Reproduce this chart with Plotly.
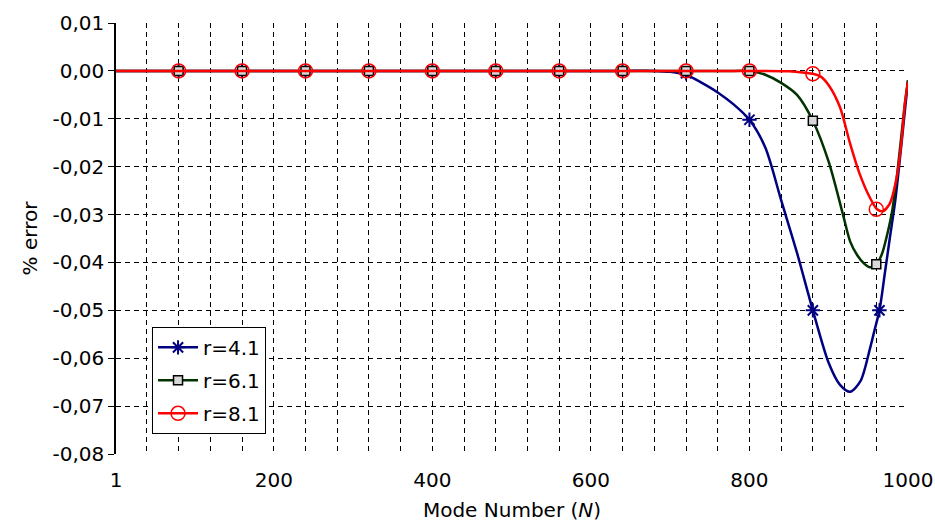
import plotly.graph_objects as go

# ---- data ----
blue_N = [1, 640, 680, 700, 720, 740, 760, 780, 800, 820, 840, 860, 880, 900, 914, 927,
          940, 952, 958, 964, 971, 977, 984, 990, 995, 1000]
blue_v = [0, 0, 0, -0.0002, -0.0008, -0.0025, -0.0045, -0.007, -0.0102, -0.016, -0.027,
          -0.038, -0.050, -0.061, -0.0655, -0.067, -0.0648, -0.058, -0.054, -0.050, -0.042,
          -0.035, -0.027, -0.018, -0.010, -0.002]

green_N = [1, 780, 800, 820, 840, 860, 880, 900, 918, 927, 936, 945, 952, 960, 967, 974,
           980, 986, 992, 996, 1000]
green_v = [0, 0, 0, -0.0008, -0.0025, -0.005, -0.0104, -0.019, -0.030, -0.0356, -0.0385,
           -0.0403, -0.041, -0.0404, -0.0383, -0.034, -0.0293, -0.022, -0.013, -0.007, -0.002]

red_N = [1, 820, 850, 870, 880, 890, 900, 914, 927, 939, 952, 961, 968, 977, 986, 992, 996, 1000]
red_v = [0, 0, -0.0001, -0.0004, -0.0006, -0.0012, -0.003, -0.0075, -0.0152, -0.0215, -0.0265,
         -0.0289, -0.0293, -0.0277, -0.022, -0.0143, -0.0069, -0.0023]

blue_mark_N = [80, 160, 240, 320, 400, 480, 560, 640, 720, 800, 880, 964]
blue_mark_v = [0, 0, 0, 0, 0, 0, 0, 0, -0.0005, -0.0102, -0.050, -0.050]
green_mark_N = [80, 160, 240, 320, 400, 480, 560, 640, 720, 800, 880, 960]
green_mark_v = [0, 0, 0, 0, 0, 0, 0, 0, 0, 0, -0.0104, -0.0404]
red_mark_N = [80, 160, 240, 320, 400, 480, 560, 640, 720, 800, 880, 960]
red_mark_v = [0, 0, 0, 0, 0, 0, 0, 0, 0, 0, -0.0006, -0.0289]

series_names = ["r=4.1", "r=6.1", "r=8.1"]

y_tickvals = [0.01, 0.0, -0.01, -0.02, -0.03, -0.04, -0.05, -0.06, -0.07, -0.08]
y_ticktext = ["0,01", "0,00", "-0,01", "-0,02", "-0,03", "-0,04", "-0,05", "-0,06", "-0,07", "-0,08"]
x_labels = {1: "1", 200: "200", 400: "400", 600: "600", 800: "800", 1000: "1000"}
x_grid = [1] + list(range(40, 1001, 40))

FONT = "DejaVu Sans"
colors = ["#000080", "#003300", "#ff0000"]
markers = [
    dict(symbol="asterisk-open", size=12, color="#000080", line=dict(color="#000080", width=2)),
    dict(symbol="square", size=9, color="#d8d8d8", line=dict(color="black", width=1.5)),
    dict(symbol="circle-open", size=14, color="#ff0000", line=dict(color="#ff0000", width=1.5)),
]
curves = [(blue_N, blue_v), (green_N, green_v), (red_N, red_v)]
marks = [(blue_mark_N, blue_mark_v), (green_mark_N, green_mark_v), (red_mark_N, red_mark_v)]

fig = go.Figure()
for i in range(3):
    fig.add_trace(go.Scatter(x=curves[i][0], y=curves[i][1], mode="lines",
                             line=dict(color=colors[i], width=2.5, shape="spline", smoothing=0.8),
                             showlegend=False, legendgroup=series_names[i], hoverinfo="skip"))
    fig.add_trace(go.Scatter(x=marks[i][0], y=marks[i][1], mode="markers",
                             marker=markers[i], showlegend=False, legendgroup=series_names[i]))
for i in range(3):
    fig.add_trace(go.Scatter(x=[None], y=[None], mode="lines+markers", name=series_names[i],
                             line=dict(color=colors[i], width=2.5), marker=markers[i],
                             legendgroup=series_names[i], showlegend=True))

fig.update_layout(
    width=935, height=522,
    margin=dict(l=116, r=27, t=23, b=68, autoexpand=False),
    paper_bgcolor="white", plot_bgcolor="white",
    font=dict(family=FONT, size=20, color="black"),
    showlegend=True,
    legend=dict(x=0.0455, y=0.295, xanchor="left", yanchor="top",
                bgcolor="white", bordercolor="black", borderwidth=1,
                font=dict(family=FONT, size=20, color="black"),
                traceorder="grouped", tracegroupgap=4, itemwidth=40),
)
fig.update_xaxes(
    range=[1, 1000], tickmode="array", tickvals=x_grid,
    ticktext=[x_labels.get(v, "") for v in x_grid],
    showgrid=True, gridcolor="black", gridwidth=1, griddash="5px,4px",
    showline=False, zeroline=False, ticks="outside", ticklen=8, tickcolor="rgba(0,0,0,0)",
    automargin=False,
    tickfont=dict(family=FONT, size=20, color="black"),
    title=dict(text="Mode Number (<i>N</i>)", font=dict(family=FONT, size=20, color="black"), standoff=12),
)
fig.update_yaxes(
    range=[-0.08, 0.01], tickmode="array", tickvals=y_tickvals, ticktext=y_ticktext,
    showgrid=True, gridcolor="black", gridwidth=1, griddash="5px,4px",
    showline=True, linecolor="black", linewidth=1.5, zeroline=False,
    ticks="outside", ticklen=6, tickcolor="black", automargin=False,
    tickfont=dict(family=FONT, size=20, color="black"),
    title=dict(text="% error", font=dict(family=FONT, size=20, color="black"), standoff=10),
)

fig.write_html("out.html")
